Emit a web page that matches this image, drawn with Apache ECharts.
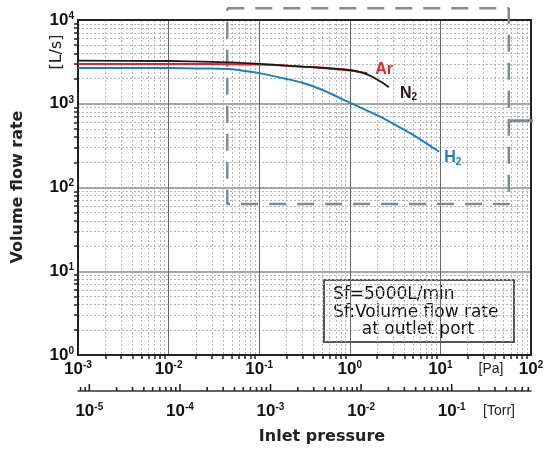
<!DOCTYPE html>
<html>
<head>
<meta charset="utf-8">
<script src="https://cdn.jsdelivr.net/npm/echarts@6/dist/echarts.min.js"></script>
<style>
  html, body { margin: 0; padding: 0; background: #fff; }
  #main { width: 547px; height: 450px; }
</style>
</head>
<body>
<div id="main"></div>
<script>
  // 吸気圧力 [Pa] と 排気速度 [L/s]
  const n2Pressure = [0.001, 0.01, 0.03, 0.05, 0.1, 0.2, 0.3, 0.5, 0.8, 1, 1.3, 1.6, 2, 2.3, 2.7]
  const n2Flow = [3270, 3240, 3170, 3120, 2990, 2860, 2780, 2690, 2590, 2530, 2390, 2210, 1950, 1780, 1570]
  const arPressure = [0.001, 0.01, 0.05, 0.1, 0.2, 0.3, 0.5, 1, 1.3, 1.56]
  const arFlow = [2990, 2985, 2970, 2940, 2850, 2770, 2680, 2500, 2400, 2310]
  const h2Pressure = [0.001, 0.01, 0.03, 0.05, 0.07, 0.1, 0.2, 0.3, 0.5, 1, 2, 3, 5, 9.7]
  const h2Flow = [2680, 2680, 2630, 2575, 2460, 2320, 1980, 1780, 1460, 1030, 730, 580, 425, 267]

  // 拡大枠と引き出し線
  const boxPressure = [0.0444, 56.9, 56.9, 0.0444, 0.0444]
  const boxFlow = [13800, 13800, 63.5, 63.5, 13800]
  const leaderPressure = [58, 170]
  const leaderFlow = [628, 628]

  // Torr目盛り (10のべき乗 × 1..9)
  const torrDecades = [1e-6, 1e-5, 1e-4, 1e-3, 1e-2, 1e-1]
  const tickSteps = [1, 2, 3, 4, 5, 6, 7, 8, 9]

  const PA_PER_TORR = 133.322
  const paMin = 1e-3
  const paMax = 1e2
  const torrMin = paMin / PA_PER_TORR
  const torrMax = paMax / PA_PER_TORR

  const pairs = (xs, ys) => xs.map((x, i) => [x, ys[i]])

  const torrTicks = []
  torrDecades.forEach(d => {
    tickSteps.forEach(s => {
      const v = d * s
      if (v >= torrMin && v <= torrMax) torrTicks.push([v, s === 1 ? 7 : 4])
    })
  })

  // 10のべき乗だけラベルを出す
  function powLabel (v) {
    const e = Math.round(Math.log10(v))
    if (Math.abs(v / Math.pow(10, e) - 1) > 1e-6) return ''
    return '{b|10}{s|' + e + '}'
  }

  const powRich = {
    b: { fontFamily: 'Liberation Sans', fontWeight: 'bold', fontSize: 17, lineHeight: 18, color: '#111' },
    s: { fontFamily: 'Liberation Sans', fontWeight: 'bold', fontSize: 10, lineHeight: 10, verticalAlign: 'top', color: '#111' }
  }

  const minorGrid = { show: true, lineStyle: { color: '#b5b5b5', width: 1, type: [2, 2] } }

  let myChart = echarts.init(document.getElementById('main'))

  let option = {
    animation: false,
    grid: { left: 78, top: 20, width: 453, height: 335 },
    xAxis: [
      {
        type: 'log',
        min: paMin,
        max: paMax,
        position: 'bottom',
        axisLine: { show: true, onZero: false, lineStyle: { color: '#222', width: 2 } },
        axisTick: { show: false },
        minorTick: { show: true, splitNumber: 9, length: 4, lineStyle: { color: '#222', width: 1.5 } },
        axisLabel: { formatter: powLabel, rich: powRich, margin: 5, showMinLabel: true, showMaxLabel: true },
        splitLine: { show: true, lineStyle: { color: '#666', width: 1 } },
        minorSplitLine: minorGrid
      },
      {
        // Torr目盛り
        type: 'log',
        min: torrMin,
        max: torrMax,
        position: 'bottom',
        offset: 36,
        axisLine: { show: true, onZero: false, lineStyle: { color: '#333', width: 1.5 } },
        axisTick: { show: false },
        minorTick: { show: false },
        axisLabel: { formatter: powLabel, rich: powRich, margin: 11, showMinLabel: false, showMaxLabel: false },
        splitLine: { show: false }
      },
      {
        type: 'log',
        min: paMin,
        max: paMax,
        position: 'top',
        axisLine: { show: true, onZero: false, lineStyle: { color: '#222', width: 2 } },
        axisTick: { show: false },
        axisLabel: { show: false },
        splitLine: { show: false }
      }
    ],
    yAxis: [
      {
        type: 'log',
        min: 1,
        max: 10000,
        axisLine: { show: true, onZero: false, lineStyle: { color: '#222', width: 2 } },
        axisTick: { show: false },
        minorTick: { show: true, splitNumber: 9, length: 4, lineStyle: { color: '#222', width: 1.5 } },
        axisLabel: { formatter: powLabel, rich: powRich, margin: 4 },
        splitLine: { show: true, lineStyle: { color: '#8a8a8a', width: 1.5 } },
        minorSplitLine: minorGrid
      },
      {
        type: 'log',
        min: 1,
        max: 10000,
        position: 'right',
        axisLine: { show: true, onZero: false, lineStyle: { color: '#222', width: 2 } },
        axisTick: { show: false },
        axisLabel: { show: false },
        splitLine: { show: false }
      }
    ],
    graphic: [
      {
        type: 'text', x: 18, y: 187, rotation: Math.PI / 2,
        style: { text: 'Volume flow rate', font: 'bold 16px "DejaVu Sans"', fill: '#222', align: 'center', verticalAlign: 'middle' }
      },
      {
        type: 'text', x: 57, y: 52, rotation: Math.PI / 2,
        style: { text: '[L/s]', font: '16px "DejaVu Sans"', fill: '#222', align: 'center', verticalAlign: 'middle' }
      },
      {
        type: 'text', x: 322, y: 437,
        style: { text: 'Inlet pressure', font: 'bold 16px "DejaVu Sans"', fill: '#222', align: 'center', verticalAlign: 'middle' }
      },
      {
        type: 'text', x: 491, y: 369,
        style: { text: '[Pa]', font: '14px "Liberation Sans"', fill: '#222', align: 'center', verticalAlign: 'middle' }
      },
      {
        type: 'text', x: 499, y: 411,
        style: { text: '[Torr]', font: '14px "Liberation Sans"', fill: '#222', align: 'center', verticalAlign: 'middle' }
      },
      {
        type: 'group', z: 100,
        children: [
          { type: 'rect', shape: { x: 324, y: 280, width: 190, height: 62 }, style: { fill: '#fff', stroke: '#555', lineWidth: 2 } },
          { type: 'text', x: 333, y: 295, style: { text: 'Sf=5000L/min', font: '17px "DejaVu Sans"', fill: '#111', align: 'left', verticalAlign: 'middle' } },
          { type: 'text', x: 333, y: 313, style: { text: 'Sf:Volume flow rate', font: '17px "DejaVu Sans"', fill: '#111', align: 'left', verticalAlign: 'middle' } },
          { type: 'text', x: 418, y: 330, style: { text: 'at outlet port', font: '17px "DejaVu Sans"', fill: '#111', align: 'center', verticalAlign: 'middle' } }
        ]
      }
    ],
    series: [
      {
        name: 'torrTicks',
        type: 'custom',
        xAxisIndex: 1,
        yAxisIndex: 0,
        clip: false,
        silent: true,
        z: 5,
        data: torrTicks,
        renderItem: function (params, api) {
          const x = api.coord([api.value(0), 1])[0]
          const base = params.coordSys.y + params.coordSys.height + 36
          return {
            type: 'line',
            shape: { x1: x, y1: base, x2: x, y2: base - api.value(1) },
            style: { stroke: '#222', lineWidth: 1.6 }
          }
        }
      },
      {
        name: 'box',
        type: 'line',
        data: pairs(boxPressure, boxFlow),
        symbol: 'none',
        clip: false,
        silent: true,
        z: 1,
        lineStyle: { color: '#7f8b94', width: 2.5, type: [17, 11] }
      },
      {
        name: 'leader',
        type: 'line',
        data: pairs(leaderPressure, leaderFlow),
        symbol: 'none',
        clip: false,
        silent: true,
        z: 1,
        lineStyle: { color: '#7f8b94', width: 3 }
      },
      {
        name: 'H2',
        type: 'line',
        data: pairs(h2Pressure, h2Flow),
        symbol: 'none',
        smooth: 0.3,
        z: 3,
        lineStyle: { color: '#1a7fc4', width: 2 },
        endLabel: {
          show: true,
          formatter: '{m|H}{sub|2}',
          offset: [-3, 6],
          rich: {
            m: { color: '#1a7fc4', fontSize: 16, fontWeight: 'bold', fontFamily: 'Liberation Sans', lineHeight: 18 },
            sub: { color: '#1a7fc4', fontSize: 10, fontWeight: 'bold', fontFamily: 'Liberation Sans', lineHeight: 10, verticalAlign: 'bottom' }
          }
        }
      },
      {
        name: 'Ar',
        type: 'line',
        data: pairs(arPressure, arFlow),
        symbol: 'none',
        smooth: 0.3,
        z: 3,
        lineStyle: { color: '#e8202a', width: 2 },
        endLabel: {
          show: true,
          formatter: 'Ar',
          offset: [0, -4],
          color: '#e8202a',
          fontSize: 16,
          fontWeight: 'bold',
          fontFamily: 'Liberation Sans'
        }
      },
      {
        name: 'N2',
        type: 'line',
        data: pairs(n2Pressure, n2Flow),
        symbol: 'none',
        smooth: 0.3,
        z: 4,
        lineStyle: { color: '#231815', width: 1.8 },
        endLabel: {
          show: true,
          formatter: '{m|N}{sub|2}',
          offset: [3, 6],
          rich: {
            m: { color: '#231815', fontSize: 16, fontWeight: 'bold', fontFamily: 'Liberation Sans', lineHeight: 18 },
            sub: { color: '#231815', fontSize: 10, fontWeight: 'bold', fontFamily: 'Liberation Sans', lineHeight: 10, verticalAlign: 'bottom' }
          }
        }
      }
    ]
  }

  myChart.setOption(option)
</script>
</body>
</html>
